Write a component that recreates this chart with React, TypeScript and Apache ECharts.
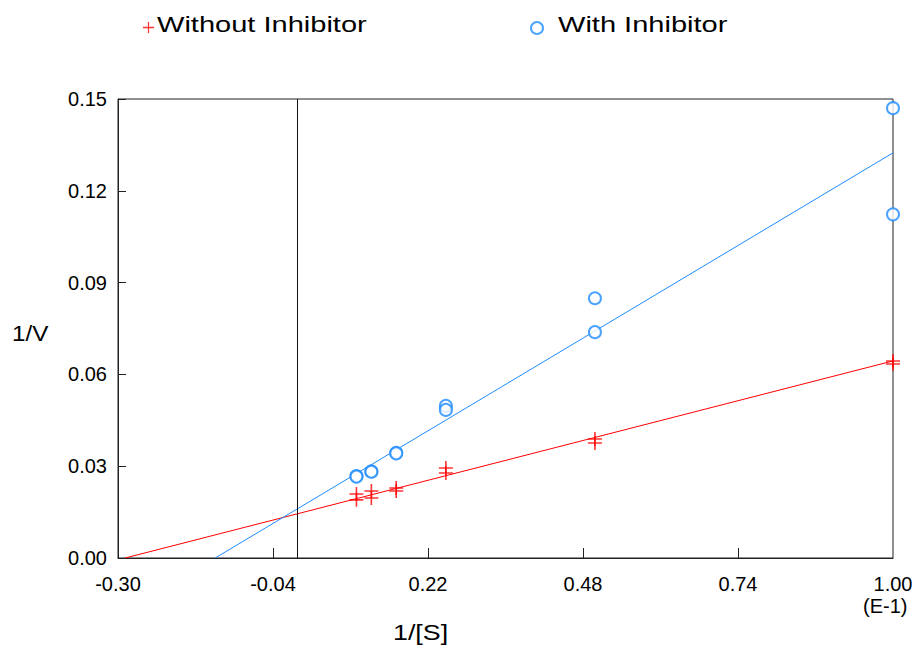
import React, { useEffect, useRef } from "react";
import * as echarts from "echarts";

// 1/[S] values (units of E-1)
const invS = [0.1, 0.125, 0.1667, 0.25, 0.5, 1.0];
// Without inhibitor, duplicate measurements
const withoutRun1 = [0.0209, 0.0219, 0.0229, 0.0294, 0.0389, 0.0644];
const withoutRun2 = [0.019, 0.0196, 0.0219, 0.0278, 0.0376, 0.0634];
// With inhibitor, duplicate measurements
const withRun1 = [0.0268, 0.0283, 0.0344, 0.0497, 0.0849, 0.147];
const withRun2 = [0.0266, 0.0282, 0.0342, 0.0484, 0.0738, 0.1123];
// Fitted line endpoints
const fitWithoutX = [-0.288, 1.0];
const fitWithoutY = [0, 0.0644];
const fitWithX = [-0.137, 1.0];
const fitWithY = [0, 0.1324];
// Axis ticks
const xTickValues = [-0.3, -0.04, 0.22, 0.48, 0.74, 1.0];
const xInnerTicks = [-0.04, 0.22, 0.48, 0.74];

const FONT = "'Liberation Sans', Arial, sans-serif";
const RED = "#ff0000";
const BLUE = "#1e8cff";
const CROSS = "path://M6.2,0H7.8V6.2H14V7.8H7.8V14H6.2V7.8H0V6.2H6.2Z";

function pairs(xs: number[], ys: number[]) {
  return xs.map((x, i) => [x, ys[i]]);
}

export default function App() {
  const ref = useRef<HTMLDivElement>(null);
  useEffect(() => {
    document.body.style.margin = "0";
    const chart = echarts.init(ref.current!, undefined, { renderer: "svg" });
    const withoutData = [...pairs(invS, withoutRun1), ...pairs(invS, withoutRun2)];
    const withData = [...pairs(invS, withRun1), ...pairs(invS, withRun2)];
    const txt = (text: string, x: number, y: number, size: number, sx: number) => ({
      type: "text",
      x,
      y,
      scaleX: sx,
      style: {
        text,
        fontSize: size,
        fill: "#000",
        fontFamily: FONT,
        verticalAlign: "middle",
        align: "left",
      },
    });
    chart.setOption({
      animation: false,
      backgroundColor: "#fff",
      textStyle: { fontFamily: FONT },
      grid: {
        left: 118,
        right: 24,
        top: 99,
        bottom: 89,
        show: true,
        borderColor: "#222",
        borderWidth: 1,
      },
      legend: [
        {
          data: [{ name: "Without Inhibitor", icon: CROSS }],
          left: 143,
          top: 21,
          padding: 0,
          itemWidth: 11,
          itemHeight: 13,
          formatter: () => "",
        },
        {
          data: [{ name: "With Inhibitor", icon: "emptyCircle" }],
          left: 530,
          top: 21,
          padding: 0,
          itemWidth: 12,
          itemHeight: 13,
          formatter: () => "",
        },
      ],
      xAxis: {
        type: "value",
        min: -0.3,
        max: 1.0,
        splitLine: { show: false },
        axisLine: { onZero: false, lineStyle: { color: "#222" } },
        axisTick: {
          inside: true,
          length: 10,
          customValues: xInnerTicks,
          lineStyle: { color: "#222" },
        },
        axisLabel: {
          customValues: xTickValues,
          formatter: (v: number) => v.toFixed(2),
          fontSize: 20,
          color: "#000",
          margin: 16,
          fontFamily: FONT,
        },
      },
      yAxis: {
        type: "value",
        min: 0,
        max: 0.15,
        interval: 0.03,
        splitLine: { show: false },
        axisLine: { onZero: false, lineStyle: { color: "#222" } },
        axisTick: { inside: true, length: 8, lineStyle: { color: "#222" } },
        axisLabel: {
          formatter: (v: number) => v.toFixed(2),
          fontSize: 20,
          color: "#000",
          margin: 11,
          fontFamily: FONT,
        },
      },
      graphic: [
        txt("Without Inhibitor", 157, 24, 22, 1.32),
        txt("With Inhibitor", 558, 24, 22, 1.32),
        txt("1/V", 12, 333, 22, 1.1),
        txt("1/[S]", 393, 632, 22, 1.22),
        txt("(E-1)", 863, 606, 20, 1.0),
      ],
      series: [
        {
          name: "Without Inhibitor",
          type: "scatter",
          data: withoutData,
          symbol: CROSS,
          symbolSize: 14,
          itemStyle: { color: RED },
          z: 5,
          markLine: {
            silent: true,
            symbol: "none",
            label: { show: false },
            lineStyle: { color: "#111", width: 1, type: "solid" },
            data: [{ xAxis: 0 }],
          },
        },
        {
          name: "With Inhibitor",
          type: "scatter",
          data: withData,
          symbol: "emptyCircle",
          symbolSize: 12,
          itemStyle: { color: BLUE, borderWidth: 1.3 },
          z: 5,
        },
        {
          name: "Fit without",
          type: "line",
          data: pairs(fitWithoutX, fitWithoutY),
          showSymbol: false,
          lineStyle: { color: RED, width: 1 },
          z: 3,
        },
        {
          name: "Fit with",
          type: "line",
          data: pairs(fitWithX, fitWithY),
          showSymbol: false,
          lineStyle: { color: BLUE, width: 1 },
          z: 3,
        },
      ],
    });
    return () => chart.dispose();
  }, []);
  return (
    <div
      ref={ref}
      style={{ width: 917, height: 647, position: "absolute", left: 0, top: 0 }}
    />
  );
}
